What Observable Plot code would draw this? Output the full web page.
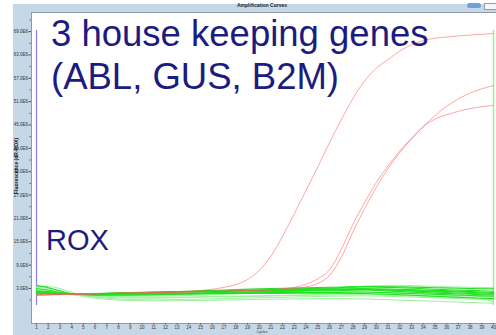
<!DOCTYPE html>
<html><head><meta charset="utf-8">
<script src="https://cdn.jsdelivr.net/npm/d3@7"></script>
<script src="https://cdn.jsdelivr.net/npm/@observablehq/plot@0.6"></script>
<style>
body{margin:0;background:#fff;font-family:"Liberation Sans",Arial,sans-serif}
#wrap{position:relative;width:496px;height:335px;overflow:hidden}
.abs{position:absolute;white-space:nowrap}
</style></head><body>
<div id="wrap">
  <div class="abs" style="left:13px;top:4px;right:0;bottom:0;background:#c6d7e8"></div>
  <div id="chart" class="abs" style="left:0;top:0"></div>
  <div class="abs" id="wintitle" style="left:237px;top:2px;font-size:5px;font-weight:bold;color:#222">Amplification Curves</div>
  <div class="abs" style="left:467px;top:3px;width:14px;height:5px;border-radius:3px;background:#6fa0d8"></div>
  <div class="abs" style="left:484px;top:3px;width:12px;height:5px;background:#f4f6f8;border:1px solid #99a"></div>
  <div class="abs" id="ylab" style="left:16px;top:166px;transform:translate(-50%,-50%) rotate(-90deg);font-size:5px;font-weight:bold;color:#111">Fluorescence (dR-ROX)</div>
  <div class="abs" id="xlab" style="left:262px;top:331px;transform:translateX(-50%);font-size:3.5px;line-height:3.5px;color:#333">Cycles</div>
  <div class="abs" id="t1" style="left:51px;top:13px;font-size:36.5px;line-height:42px;color:#1c1c80">3 house keeping genes</div>
  <div class="abs" id="t2" style="left:51px;top:56px;font-size:36.5px;line-height:42px;color:#1c1c80">(ABL, GUS, B2M)</div>
  <div class="abs" id="t3" style="left:46px;top:223px;font-size:29px;line-height:34px;color:#1c1c80">ROX</div>
</div>
<script>
// ---- data ----
const cycles = [1,2,3,4,5,6,7,8,9,10,11,12,13,14,15,16,17,18,19,20,21,22,23,24,25,26,27,28,29,30,31,32,33,34,35,36,37,38,39,40];
const yTicks = [3,9,15,21,27,33,39,45,51,57,63,69];
const yMinorTicks = [0,6,12,18,24,30,36,42,48,54,60,66,72];
const yTickLabels = ["3.0E6","9.0E6","15.0E6","21.0E6","27.0E6","33.0E6","39.0E6","45.0E6","51.0E6","57.0E6","63.0E6","69.0E6"];

const redA = [1.3,1.4,1.5,1.5,1.6,1.7,1.7,1.8,1.9,1.9,2.0,2.1,2.2,2.3,2.5,2.8,3.3,4.0,5.3,7.6,11.3,16.4,22.2,28.2,34.2,40.4,46.3,51.8,56.3,59.6,61.8,64.0,65.6,66.7,67.3,67.6,67.9,68.1,68.3,68.5];
const redB = [1.2,1.3,1.4,1.5,1.5,1.6,1.7,1.7,1.8,1.8,1.9,2.0,2.0,2.1,2.2,2.2,2.3,2.4,2.5,2.6,2.7,2.9,3.3,4.1,5.5,7.8,13.0,19.5,25.0,30.2,34.5,38.3,41.6,44.6,47.4,49.8,51.7,53.2,54.3,55.1];
const redC = [1.4,1.4,1.5,1.5,1.6,1.6,1.7,1.8,1.8,1.9,1.9,2.0,2.1,2.1,2.2,2.3,2.3,2.4,2.5,2.5,2.6,2.8,3.0,3.4,4.3,6.3,11.0,17.5,23.5,29.0,33.8,37.9,41.4,44.5,46.5,47.6,48.5,49.2,49.7,50.0];

const greenCycles = [1,2,3,4,6,8,11,14,17,20,23,26,29,32,35,38,40];
const g1  = [3.8,3.2,2.4,1.6,1.6,1.8,2.0,2.2,2.4,2.6,2.9,3.1,3.4,3.2,2.8,2.5,2.3];
const g2  = [3.0,2.6,2.0,1.5,1.6,1.7,1.9,2.1,2.3,2.5,2.7,2.9,3.0,2.8,2.5,2.2,2.0];
const g3  = [3.6,3.5,3.0,2.0,0.8,0.3,0.1,0.2,0.4,0.6,0.8,1.0,1.1,0.9,0.6,0.3,0.1];
const g4  = [2.6,2.3,1.9,1.5,0.9,0.6,0.5,0.7,0.9,1.0,1.2,1.3,1.4,1.2,0.9,0.5,0.2];
const g5  = [2.2,2.0,1.7,1.5,1.4,1.5,1.7,1.8,2.0,2.1,2.3,2.4,2.6,2.2,1.8,1.5,1.3];
const g6  = [1.9,1.8,1.6,1.5,1.5,1.6,1.6,1.7,1.8,1.9,2.0,2.0,2.1,1.8,1.5,1.2,1.0];
const g7  = [3.3,3.0,2.4,1.8,1.2,1.0,1.0,1.2,1.5,1.8,2.2,2.8,3.6,3.8,3.5,3.3,3.2];
const g8  = [2.0,1.9,1.7,1.5,1.6,1.8,2.0,2.3,2.6,2.9,3.1,3.3,3.5,3.4,3.2,3.0,2.9];
const g9  = [1.8,1.7,1.6,1.4,0.5,0.0,-0.2,-0.1,0.0,0.2,0.3,0.4,0.3,0.0,-0.3,-0.6,-0.8];
const g10 = [1.6,1.6,1.5,1.5,1.4,1.4,1.5,1.6,1.7,1.7,1.8,1.8,1.7,1.4,1.0,0.6,0.4];
const g11 = [2.4,2.2,1.8,1.5,1.3,1.3,1.4,1.6,1.9,2.2,2.5,2.7,2.8,2.6,2.3,2.0,1.7];
const g12 = [2.9,2.5,2.0,1.6,1.2,1.1,1.2,1.4,1.6,1.8,2.0,2.1,2.1,1.8,1.4,1.0,0.8];
const g13 = [1.7,1.6,1.5,1.5,1.7,1.9,2.1,2.2,2.3,2.4,2.5,2.6,2.7,2.5,2.1,1.7,1.5];
const g14 = [2.1,2.0,1.8,1.5,1.0,0.8,0.7,0.8,1.0,1.1,1.3,1.5,1.6,1.4,1.1,0.7,-0.4];
const greenBright = [g1,g2,g5,g6,g8,g10,g11,g13];
const greenLight = [g3,g4,g7,g9,g12,g14];

const markerCycles = [1, 40];
const markerRange = [-1.4, 69.3];

// ---- build tables ----
const toRows = (arr, xs, id) => arr.map((v,i) => ({x: xs[i], y: v, id}));
const reds = [...toRows(redA, cycles, "A"), ...toRows(redB, cycles, "B"), ...toRows(redC, cycles, "C")];
const brights = greenBright.flatMap((s,k) => toRows(s, greenCycles, "b"+k));
const lights = greenLight.flatMap((s,k) => toRows(s, greenCycles, "l"+k));

const chart = Plot.plot({
  width: 496, height: 335,
  marginLeft: 31, marginRight: 0, marginTop: 12, marginBottom: 12,
  x: {domain: [0.573, 40.256]},
  y: {domain: [-6.0, 73.9]},
  style: {background: "transparent", fontSize: "4.5px", fontFamily: "Liberation Sans, Arial, sans-serif", color: "#333"},
  marks: [
    Plot.frame({fill: "white", stroke: "#8f9aa5", strokeWidth: 1}),
    Plot.axisY({ticks: yMinorTicks, tickSize: 1.5, tickFormat: () => "", label: null, stroke: "#667"}),
    Plot.axisY({ticks: yTicks, tickSize: 2.5, tickPadding: 1, tickFormat: d => yTickLabels[yTicks.indexOf(d)], label: null, stroke: "#555"}),
    Plot.axisX({ticks: cycles, tickSize: 1.5, tickPadding: 0.5, tickFormat: d => String(d), label: null, stroke: "#555"}),
    Plot.ruleX([markerCycles[1]], {y1: markerRange[0], y2: markerRange[1], stroke: "#a8eca0", strokeWidth: 1.6}),
    Plot.ruleX([markerCycles[0]], {y1: markerRange[0], y2: markerRange[1], stroke: "#8a7cf2", strokeWidth: 1.2}),
    Plot.line(lights, {x: "x", y: "y", z: "id", stroke: "#9cf09c", strokeWidth: 1, curve: "monotone-x"}),
    Plot.line(brights, {x: "x", y: "y", z: "id", stroke: "#22e022", strokeWidth: 1.1, curve: "monotone-x"}),
    Plot.line(reds, {x: "x", y: "y", z: "id", stroke: "#ff5a5a", strokeOpacity: 0.6, strokeWidth: 0.9, curve: "monotone-x"})
  ]
});
document.getElementById("chart").appendChild(chart);
</script>
</body></html>
